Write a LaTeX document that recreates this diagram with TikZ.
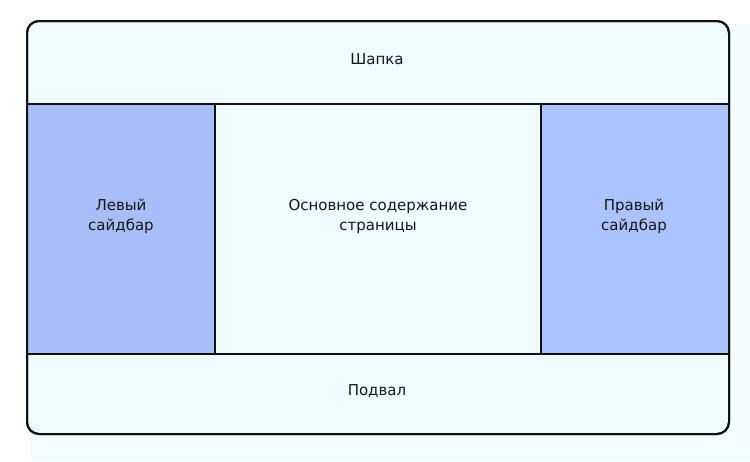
\documentclass[tikz,border=0pt]{standalone}
\usepackage{fontspec}
\setmainfont{DejaVu Sans}
\definecolor{pagebg}{HTML}{F3FCFF}
\definecolor{cellbg}{HTML}{EEFBFF}
\definecolor{sideL}{HTML}{A9BEF8}
\definecolor{sideR}{HTML}{ABC3FF}
\definecolor{ink}{HTML}{161616}
\definecolor{edge}{HTML}{111111}
\tikzset{
  region/.style={draw=edge, line width=2pt, inner sep=0pt, anchor=center},
  lbl/.style={text=ink, font=\fontsize{15}{20}\selectfont, align=center, inner sep=0pt}
}
\begin{document}
\begin{tikzpicture}[x=1pt,y=-1pt]
\useasboundingbox (0,0) rectangle (750,461);
\fill[pagebg] (30,24) rectangle (750,461);
\node[region, rounded corners=12pt, fill=cellbg, minimum width=702pt, minimum height=413pt] (page) at (378,227.5) {};
\node[region, fill=sideL, minimum width=188pt, minimum height=250pt] (left) at (121,229) {};
\node[region, fill=cellbg, minimum width=326pt, minimum height=250pt] (main) at (378,229) {};
\node[region, fill=sideR, minimum width=188pt, minimum height=250pt] (right) at (635,229) {};
\node[region, rounded corners=12pt, fill=none, minimum width=702pt, minimum height=413pt] (frame) at (378,227.5) {};
\node[lbl] (headtxt) at (377,59) {Шапка};
\node[lbl] (lefttxt) at (121,216) {Левый\\сайдбар};
\node[lbl] (maintxt) at (378,216) {Основное содержание\\страницы};
\node[lbl] (righttxt) at (634,216) {Правый\\сайдбар};
\node[lbl] (foottxt) at (377,391) {Подвал};
\end{tikzpicture}
\end{document}
